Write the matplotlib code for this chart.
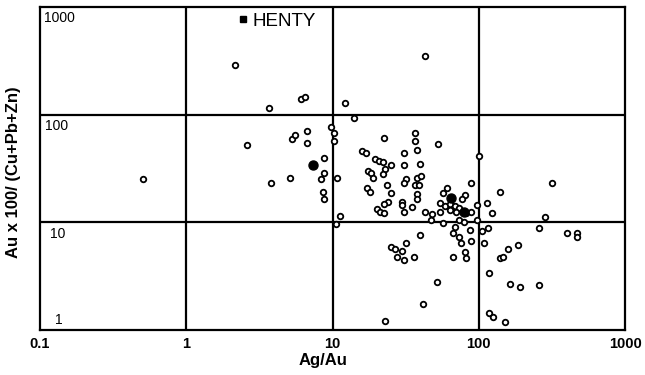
import matplotlib
matplotlib.use("Agg")
import matplotlib.pyplot as plt
from matplotlib.lines import Line2D

plt.rcParams['font.family'] = ['Liberation Sans', 'DejaVu Sans']

# Ag/Au vs Au x 100/(Cu+Pb+Zn)
ag_au = [0.51, 2.15, 3.7, 6.1, 6.5, 12.1, 14, 43, 2.6, 5.3, 5.5, 6.7, 6.7, 9.7, 10.3, 10.2,
         8.7, 8.7, 8.4, 5.1, 3.8, 10.8, 8.6, 8.8, 11.2, 10.5,
         15.9, 16.9, 22.6, 36.5, 36.5, 38, 53, 31, 19.6, 20.8, 22.2, 25.3, 23, 31, 39.5,
         22.2, 17.5, 18.4, 18.9, 31.6, 38, 40, 31, 36.5, 39, 17.2, 18.1, 23.7, 25.3, 37.7,
         37.7, 30, 24, 22.6, 30, 35, 31, 20.2, 21.2, 22.6, 43, 48, 47, 61, 57, 89, 100,
         140, 316, 81, 77, 113, 97, 54, 59, 64, 69, 73, 54, 64, 70, 82, 88, 124, 284,
         57, 73, 97, 79, 69, 39.5, 67, 73, 87, 105, 115, 259, 404, 470, 470, 76, 89, 108,
         31.6, 25, 26.6, 30, 27.8, 36, 31, 67, 80, 82, 158, 185, 140, 147, 118, 52, 163,
         191, 259, 41.5, 23, 117, 126, 151]
au_ratio = [25, 290, 116, 141, 147, 127, 94, 350, 52, 60, 65, 70, 54, 77, 68, 57,
            40, 29, 25, 26, 23, 26, 19, 16.3, 11.4, 9.6,
            46, 44, 61, 68, 57, 47, 53, 44, 39, 37.5, 36, 34, 31.6, 34, 35,
            28, 30, 28.5, 26, 25.5, 26, 27, 23, 22, 22, 21, 19, 22, 18.6, 18.2,
            16.3, 15.6, 15.6, 14.7, 14.4, 13.8, 12.6, 13.2, 12.4, 12.1, 12.6, 11.9, 10.4, 20.7, 18.6, 23.4, 41,
            19, 23, 17.8, 16.3, 15, 14.4, 15, 14.1, 14.7, 14.1, 13.5, 12.4, 12.9, 12.4, 12.1, 12.4, 12.1, 11.1,
            9.8, 10.4, 10.4, 10, 9.0, 7.6, 7.9, 7.3, 8.4, 8.3, 8.8, 8.8, 7.9, 7.9, 7.3, 6.4, 6.7, 6.4,
            6.4, 5.9, 5.7, 5.4, 4.8, 4.8, 4.5, 4.8, 5.3, 4.7, 5.6, 6.1, 4.7, 4.8, 3.4, 2.8, 2.7,
            2.5, 2.6, 1.74, 1.21, 1.44, 1.32, 1.19]

henty_ag_au = [7.3, 65, 79]
henty_au_ratio = [34, 17, 12.6]

decades = [0.1, 1, 10, 100, 1000]
x_labels = ['0.1', '1', '10', '100', '1000']
y_labels = ['1000', '100', '10', '1']

fig = plt.figure(figsize=(6.45, 3.75), dpi=100)
ax = fig.add_axes([40 / 645, 45 / 375, 585 / 645, 323 / 375])
ax.set_xscale('log')
ax.set_yscale('log')
ax.set_xlim(0.1, 1000)
ax.set_ylim(1, 1000)

# heavy grid at each decade
for v in [1, 10, 100]:
    ax.axvline(v, color='black', lw=1.6, zorder=1)
for v in [10, 100]:
    ax.axhline(v, color='black', lw=1.6, zorder=1)
for s in ax.spines.values():
    s.set_linewidth(1.6)

ax.plot(ag_au, au_ratio, 'o', ms=4, mfc='white', mec='black', mew=1.3, zorder=3)
ax.plot(henty_ag_au, henty_au_ratio, 'o', ms=6.5, color='black', zorder=4)

ax.set_xticks(decades)
ax.set_xticklabels(x_labels, fontsize=10.5, fontweight='bold')
ax.set_yticks([])
ax.minorticks_off()
ax.tick_params(axis='x', length=0, pad=5)

# y labels drawn inside the frame, just under each grid line
y_pos = [1000, 100, 10, 1]
y_x = [0.006, 0.009, 0.017, 0.026]
for lbl, yv, xx in zip(y_labels, y_pos, y_x):
    if yv == 1:
        ax.annotate(lbl, xy=(xx, yv), xycoords=('axes fraction', 'data'), xytext=(0, 2),
                    textcoords='offset points', va='bottom', ha='left', fontsize=10)
    else:
        ax.annotate(lbl, xy=(xx, yv), xycoords=('axes fraction', 'data'), xytext=(0, -3),
                    textcoords='offset points', va='top', ha='left', fontsize=10)

h = Line2D([], [], marker='s', ms=4, color='black', ls='none')
ax.legend([h], ['HENTY'], loc='upper left', bbox_to_anchor=(0.305, 1.035), frameon=False,
          handletextpad=0.1, handlelength=0.8, prop={'size': 13.5})

fig.text(323 / 645, (375 - 360) / 375, 'Ag/Au', ha='center', va='center', fontsize=12, fontweight='bold')
fig.text(14 / 645, (375 - 172) / 375, 'Au x 100/ (Cu+Pb+Zn)', rotation=90, ha='center', va='center',
         fontsize=12, fontweight='bold')

fig.savefig('out.png', dpi=100)
